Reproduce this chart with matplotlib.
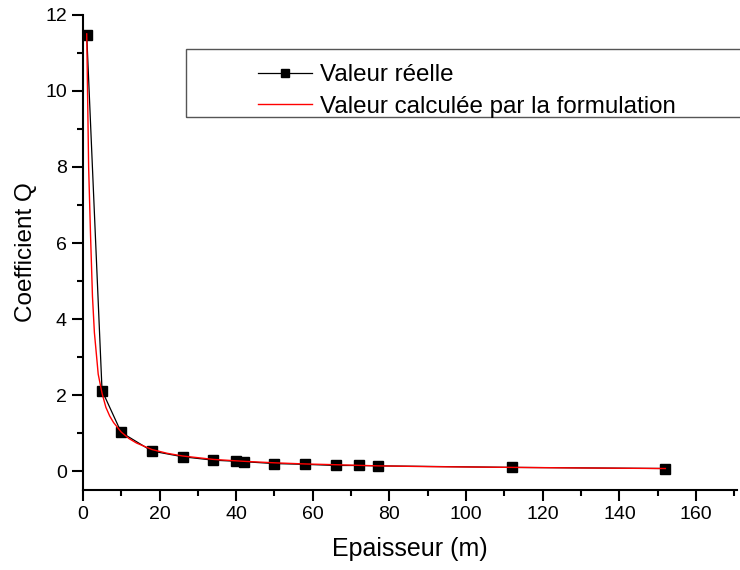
import matplotlib
matplotlib.use('Agg')
import matplotlib.pyplot as plt
from matplotlib.patches import Rectangle
from matplotlib.ticker import MultipleLocator

plt.rcParams['font.family'] = ['Liberation Sans', 'DejaVu Sans']

# valeurs réelles
epaisseur = [1, 5, 10, 18, 26, 34, 40, 42, 50, 58, 66, 72, 77, 112, 152]
q_reel = [11.48, 2.12, 1.02, 0.53, 0.38, 0.29, 0.26, 0.25, 0.20, 0.18, 0.15, 0.15, 0.14, 0.10, 0.07]

# courbe calculée par la formulation
x_calc = [1, 1.5, 2, 2.5, 3, 4, 5, 6, 7, 8, 10, 12, 14, 18, 22, 26, 34, 42, 50, 58, 66, 77, 90,
          112, 130, 152]
q_calc = [11.5, 8.0, 6.2, 4.6, 3.65, 2.55, 2.05, 1.68, 1.45, 1.28, 1.03, 0.86, 0.74, 0.57, 0.47,
          0.40, 0.31, 0.26, 0.22, 0.19, 0.17, 0.14, 0.12, 0.10, 0.085, 0.07]

fig = plt.figure(figsize=(7.4, 5.7), dpi=100)
ax = fig.add_axes([0.112, 0.140, 0.884, 0.834])

ax.plot(epaisseur, q_reel, color='black', lw=0.9, marker='s', ms=7.5,
        label='Valeur réelle')
ax.plot(x_calc, q_calc, color='red', lw=1.0, label='Valeur calculée par la formulation')

ax.set_xlim(0, 170.7)
ax.set_ylim(-0.5, 12)
ax.xaxis.set_major_locator(MultipleLocator(20))
ax.xaxis.set_minor_locator(MultipleLocator(10))
ax.yaxis.set_major_locator(MultipleLocator(2))
ax.yaxis.set_minor_locator(MultipleLocator(1))

ax.spines['top'].set_visible(False)
ax.spines['right'].set_visible(False)
for s in ['left', 'bottom']:
    ax.spines[s].set_linewidth(1.5)
ax.tick_params(which='major', direction='out', length=8, width=1.5, labelsize=14)
ax.tick_params(which='minor', direction='out', length=4, width=1.5)

ax.set_xlabel('Epaisseur (m)', fontsize=18, labelpad=10)
ax.set_ylabel('Coefficient Q', fontsize=17.5, labelpad=6)

# cadre de la légende
ax.add_patch(Rectangle((0.157, 0.785), 0.85, 0.143, transform=ax.transAxes,
                       fill=False, edgecolor='#555555', lw=1.0, clip_on=False))
ax.legend(loc='upper left', bbox_to_anchor=(0.242, 0.932), frameon=False,
          fontsize=17.4, handlelength=2.25, handletextpad=0.33, labelspacing=0.4,
          borderpad=0.2, markerscale=0.8)

plt.savefig('out.png', dpi=100)
